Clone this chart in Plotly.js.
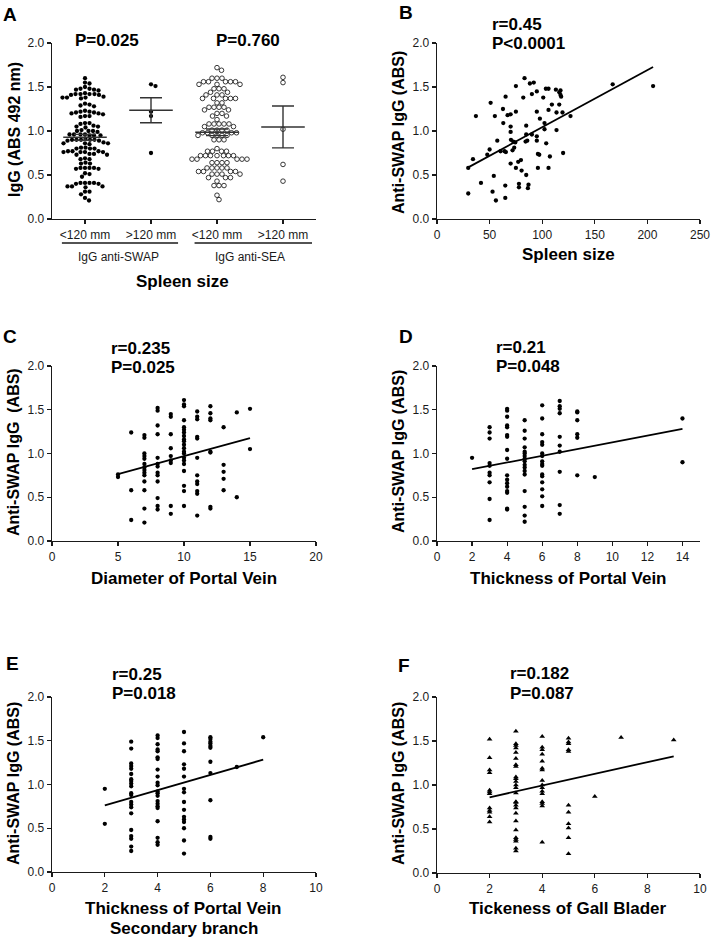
<!DOCTYPE html>
<html>
<head>
<meta charset="utf-8">
<script src="https://cdn.plot.ly/plotly-3.0.1.min.js"></script>
<style>
  html, body { margin: 0; padding: 0; background: #fff; }
</style>
</head>
<body>
<div id="myPlot" style="width:714px;height:941px;"></div>
<script>
// ---- Panel A: IgG by spleen size (scatter dot plot) ----
const aCats = ["&lt;120 mm", "&gt;120 mm", "&lt;120 mm", "&gt;120 mm"];
const aGroups = ["IgG anti-SWAP", "IgG anti-SEA"];
const aPvals = ["P=0.025", "P=0.760"];
const aSwapLow = [1.60, 1.54, 1.55, 1.50, 1.47, 1.48, 1.47, 1.48, 1.46,
  1.42, 1.42, 1.41, 1.42, 1.43, 1.42, 1.41, 1.38, 1.37, 1.38, 1.39, 1.38,
  1.31, 1.30, 1.29, 1.28, 1.22, 1.23, 1.22, 1.21, 1.20, 1.21, 1.19, 1.20,
  1.17, 1.16, 1.17, 1.09, 1.08, 1.09, 1.05, 1.06, 1.05, 1.04,
  1.00, 1.01, 1.00, 0.99, 1.00, 0.96, 0.95, 0.96, 0.95, 0.96, 0.95, 0.96,
  0.90, 0.90, 0.89, 0.90, 0.91, 0.90, 0.89, 0.90, 0.86, 0.87, 0.86, 0.85, 0.86,
  0.80, 0.81, 0.80, 0.80, 0.81, 0.77, 0.76, 0.77, 0.76, 0.77, 0.76, 0.76,
  0.74, 0.73, 0.74, 0.73, 0.68, 0.69, 0.68, 0.63, 0.64, 0.63,
  0.58, 0.57, 0.58, 0.58, 0.57, 0.58, 0.52, 0.51, 0.48,
  0.41, 0.40, 0.41, 0.40, 0.41, 0.41, 0.37, 0.37, 0.36, 0.37,
  0.31, 0.31, 0.28, 0.24, 0.21];
const aSwapHigh = [1.53, 1.51, 1.22, 1.17, 0.75];
const aSeaLow = [1.72, 1.69, 1.60, 1.60, 1.60, 1.56, 1.56, 1.56, 1.56, 1.56,
  1.53, 1.53, 1.53, 1.48, 1.48, 1.48, 1.44, 1.44, 1.41, 1.41, 1.41,
  1.37, 1.37, 1.37, 1.37, 1.37, 1.32, 1.32, 1.27, 1.27, 1.27, 1.27,
  1.24, 1.24, 1.20, 1.20, 1.17, 1.17, 1.13, 1.08, 1.08, 1.08, 1.08, 1.08,
  1.05, 1.05, 1.01, 1.01, 1.01, 1.01, 0.98, 0.98, 0.98, 0.98,
  0.95, 0.95, 0.95, 0.95, 0.95, 0.90, 0.90, 0.90, 0.80, 0.77, 0.77, 0.77, 0.77,
  0.72, 0.72, 0.72, 0.72, 0.72, 0.72, 0.72, 0.68, 0.68, 0.68, 0.68, 0.68,
  0.64, 0.64, 0.64, 0.64, 0.58, 0.58, 0.58, 0.58, 0.58,
  0.54, 0.54, 0.54, 0.54, 0.51, 0.51, 0.51, 0.51, 0.47, 0.47, 0.47, 0.43,
  0.38, 0.38, 0.38, 0.27, 0.22];
const aSeaHigh = [1.61, 1.55, 1.02, 0.62, 0.43];

// ---- Panel B: spleen size ----
const bX = [29.7, 29.7, 34.2, 37, 41.8, 47.8, 50, 51, 54, 52.8, 56, 55, 57.3, 60.4, 63,
  65.2, 62.7, 64.2, 65.5, 64.9, 64.9, 67.1, 70, 70, 70, 70.3, 70, 71.8, 72.5, 73.4,
  74.4, 75, 75, 75, 77.2, 77.9, 77.9, 80.4, 79.8, 82, 83.2, 84.8, 84.8, 84.2, 84.8,
  85.8, 87, 86.4, 88.3, 92, 90.2, 90.2, 94.9, 94.9, 94.9, 94.9, 95.9, 95.9, 97.2,
  97.8, 101, 102.2, 102.2, 103.8, 103.5, 106, 106, 107.3, 106, 109.2, 113, 113.6,
  113.6, 116.2, 117.4, 117.4, 118, 116.2, 119.3, 119.9, 126.9, 167, 205.4];
const bY = [0.29, 0.58, 0.68, 1.17, 0.41, 0.73, 0.79, 1.32, 0.49, 0.31, 0.21, 1.17, 0.89, 0.77, 1.09,
  1.39, 1.25, 0.77, 0.76, 0.38, 0.24, 1.18, 1.19, 1.05, 0.99, 0.90, 0.63, 0.78, 0.88, 0.81,
  0.87, 1.22, 1.51, 0.58, 0.65, 0.40, 0.36, 0.55, 0.67, 1.38, 1.60, 0.96, 1.06, 0.88, 0.50,
  0.89, 0.39, 0.35, 1.54, 1.55, 1.42, 0.96, 1.45, 1.22, 0.94, 0.89, 0.74, 0.58, 0.73,
  1.14, 1.38, 1.09, 1.02, 0.86, 1.48, 1.48, 1.24, 0.71, 0.58, 1.30, 1.47, 1.21,
  1.01, 1.44, 1.41, 1.46, 1.39, 1.30, 1.21, 0.75, 1.17, 1.53, 1.51];
const bFit = [0.394, 0.00649];

// ---- Panel C: diameter of portal vein ----
const cCols = [5, 6, 7, 8, 9, 10, 11, 12, 13, 14, 15];
const cVals = [
  [0.76, 0.73],
  [1.24, 0.58, 0.24],
  [1.21, 1.18, 1.00, 0.97, 0.94, 0.88, 0.84, 0.81, 0.78, 0.75, 0.68, 0.58, 0.37, 0.21],
  [1.52, 1.49, 1.32, 1.22, 0.95, 0.88, 0.85, 0.78, 0.75, 0.68, 0.49, 0.40, 0.36],
  [1.45, 1.42, 1.22, 1.06, 0.97, 0.92, 0.89, 0.40, 0.31],
  [1.61, 1.56, 1.54, 1.38, 1.30, 1.27, 1.24, 1.20, 1.16, 1.14, 1.10, 1.06, 1.02, 1.00, 0.95, 0.92, 0.88, 0.80, 0.63, 0.57, 0.40],
  [1.48, 1.42, 1.39, 1.19, 1.17, 0.95, 0.75, 0.68, 0.65, 0.57, 0.54, 0.29],
  [1.54, 1.46, 1.40, 1.38, 1.02, 1.01, 0.39, 0.37],
  [1.30, 0.87, 0.79, 0.71, 0.58],
  [1.47, 0.50],
  [1.51, 1.05]
];
const cFit = [0.559, 0.0411];

// ---- Panel D: thickness of portal vein ----
const dCols = [2, 3, 4, 5, 6, 7, 8, 9, 14];
const dVals = [
  [0.95],
  [1.30, 1.24, 1.17, 0.89, 0.86, 0.78, 0.75, 0.67, 0.48, 0.24],
  [1.51, 1.49, 1.42, 1.32, 1.30, 1.21, 1.19, 1.04, 0.94, 0.75, 0.70, 0.66, 0.62, 0.57, 0.55, 0.37, 0.36],
  [1.38, 1.26, 1.17, 1.07, 1.02, 1.00, 0.97, 0.94, 0.91, 0.87, 0.84, 0.80, 0.76, 0.57, 0.39, 0.29, 0.22],
  [1.55, 1.40, 1.22, 1.13, 1.10, 1.00, 0.97, 0.91, 0.88, 0.86, 0.76, 0.74, 0.67, 0.59, 0.51, 0.40],
  [1.60, 1.54, 1.51, 1.46, 1.19, 1.09, 1.02, 0.79, 0.41, 0.31],
  [1.48, 1.47, 1.38, 1.22, 1.18, 0.75],
  [0.73],
  [1.40, 0.90]
];
const dFit = [0.744, 0.0383];

// ---- Panel E: portal vein secondary branch ----
const eCols = [2, 3, 4, 5, 6, 7, 8];
const eVals = [
  [0.95, 0.55],
  [1.49, 1.41, 1.24, 1.21, 1.18, 1.12, 1.06, 1.04, 1.01, 0.98, 0.90, 0.88, 0.80, 0.77, 0.74, 0.67, 0.48, 0.41, 0.38, 0.29, 0.24],
  [1.56, 1.53, 1.46, 1.40, 1.38, 1.31, 1.29, 1.17, 1.09, 1.02, 0.99, 0.92, 0.90, 0.87, 0.81, 0.78, 0.75, 0.73, 0.58, 0.39, 0.34, 0.31],
  [1.60, 1.47, 1.38, 1.23, 1.18, 1.09, 0.95, 0.91, 0.80, 0.71, 0.63, 0.60, 0.57, 0.50, 0.36, 0.21],
  [1.54, 1.52, 1.49, 1.47, 1.44, 1.42, 1.26, 1.13, 0.82, 0.40, 0.38],
  [1.20],
  [1.54]
];
const eFit = [0.588, 0.087];

// ---- Panel F: gall bladder ----
const fCols = [2, 3, 4, 5, 6, 7, 9];
const fVals = [
  [1.52, 1.31, 1.17, 1.14, 0.94, 0.92, 0.90, 0.74, 0.71, 0.69, 0.64, 0.58],
  [1.61, 1.47, 1.45, 1.42, 1.37, 1.30, 1.23, 1.21, 1.09, 1.07, 1.04, 1.00, 0.97, 0.91, 0.81, 0.80, 0.77, 0.74, 0.68, 0.59, 0.49, 0.40, 0.38, 0.36, 0.28, 0.25],
  [1.55, 1.43, 1.40, 1.35, 1.27, 1.19, 1.17, 1.05, 1.00, 0.97, 0.93, 0.90, 0.81, 0.79, 0.76, 0.35],
  [1.53, 1.49, 1.47, 1.40, 1.38, 0.77, 0.69, 0.56, 0.51, 0.40, 0.22],
  [0.87],
  [1.54],
  [1.51]
];
const fFit = [0.727, 0.0666];

// ---- layout helpers ----
const W = 714, H = 941;
const FONT = "Liberation Sans, Arial, sans-serif";
const INK = "#1a1a1a";
const px = (v) => v / W;
const py = (v) => 1 - v / H;

// panel boxes in pixels: [left, right, top, bottom]
const boxA = [52, 316, 43, 219];
const boxB = [437, 700, 43, 219];
const boxC = [52, 316, 366, 541];
const boxD = [437, 700, 366, 541];
const boxE = [52, 316, 697, 872];
const boxF = [437, 700, 697, 873];

function xAxis(box, range, extra) {
  return Object.assign({
    domain: [px(box[0]), px(box[1])], range: range,
    showline: true, linecolor: INK, linewidth: 1.3,
    ticks: "outside", ticklen: 4, tickwidth: 1.2, tickcolor: INK,
    showgrid: false, zeroline: false,
    tickfont: {family: FONT, size: 12, color: INK}
  }, extra);
}
function yAxis(box, extra) {
  return Object.assign({
    domain: [py(box[3]), py(box[2])], range: [0, 2], dtick: 0.5, tickformat: ".1f",
    showline: true, linecolor: INK, linewidth: 1.3,
    ticks: "outside", ticklen: 4, tickwidth: 1.2, tickcolor: INK,
    showgrid: false, zeroline: false,
    tickfont: {family: FONT, size: 12, color: INK}
  }, extra);
}

function flatten(cols, vals) {
  const x = [], y = [];
  cols.forEach((c, i) => vals[i].forEach(v => { x.push(c); y.push(v); }));
  return {x, y};
}

// beeswarm offsets (in category units) so the dots do not overlap
function swarm(vals, center, dotPx, xPerUnit, yPerUnit) {
  const placed = [];
  const out = new Array(vals.length);
  const order = vals.map((v, i) => i).sort((a, b) => vals[b] - vals[a]);
  order.forEach(i => {
    const yy = vals[i] * yPerUnit;
    let off = 0;
    for (let k = 0; k < 400; k++) {
      const cand = (k % 2 ? 1 : -1) * Math.ceil(k / 2) * 0.5;
      if (placed.every(p => (p.x - cand) ** 2 + (p.y - yy) ** 2 >= dotPx * dotPx)) { off = cand; break; }
    }
    placed.push({x: off, y: yy});
    out[i] = center + off / xPerUnit;
  });
  return out;
}

const mean = a => a.reduce((s, v) => s + v, 0) / a.length;
const sem = a => {
  const m = mean(a);
  return Math.sqrt(a.reduce((s, v) => s + (v - m) ** 2, 0) / (a.length - 1)) / Math.sqrt(a.length);
};

const data = [];

// Panel A traces
const aXper = (boxA[1] - boxA[0]) / 4;
const aYper = (boxA[3] - boxA[2]) / 2;
const aSets = [aSwapLow, aSwapHigh, aSeaLow, aSeaHigh];
aSets.forEach((vals, i) => {
  const open = i >= 2;
  data.push({
    type: "scatter", mode: "markers", xaxis: "x", yaxis: "y",
    x: swarm(vals, i, open ? 4.8 : 4.4, aXper, aYper), y: vals,
    marker: open
      ? {symbol: "circle-open", size: 4.6, color: "#222", line: {width: 0.9}}
      : {symbol: "circle", size: 4.3, color: "#000"},
    hoverinfo: "skip", cliponaxis: false
  });
  const m = mean(vals);
  data.push({
    type: "scatter", mode: "lines", xaxis: "x", yaxis: "y",
    x: [i - 0.33, i + 0.33], y: [m, m],
    line: {color: "#333", width: 1.4}, hoverinfo: "skip"
  });
  data.push({
    type: "scatter", mode: "markers", xaxis: "x", yaxis: "y",
    x: [i], y: [m], marker: {size: 1, color: "rgba(0,0,0,0)"},
    error_y: {type: "data", array: [sem(vals)], color: "#333", thickness: 1.4, width: 11},
    hoverinfo: "skip"
  });
});

// correlation panels
function corrPanel(n, x, y, fit, symbol) {
  const ax = "x" + n, ay = "y" + n;
  data.push({
    type: "scatter", mode: "markers", xaxis: ax, yaxis: ay, x: x, y: y,
    marker: {symbol: symbol, size: symbol === "circle" ? 4.3 : 5, color: "#000"},
    hoverinfo: "skip", cliponaxis: false
  });
  const x0 = Math.min(...x), x1 = Math.max(...x);
  data.push({
    type: "scatter", mode: "lines", xaxis: ax, yaxis: ay,
    x: [x0, x1], y: [fit[0] + fit[1] * x0, fit[0] + fit[1] * x1],
    line: {color: "#000", width: 1.8}, hoverinfo: "skip"
  });
}
corrPanel(2, bX, bY, bFit, "circle");
const cD = flatten(cCols, cVals); corrPanel(3, cD.x, cD.y, cFit, "circle");
const dD = flatten(dCols, dVals); corrPanel(4, dD.x, dD.y, dFit, "circle");
const eD = flatten(eCols, eVals); corrPanel(5, eD.x, eD.y, eFit, "circle");
const fD = flatten(fCols, fVals); corrPanel(6, fD.x, fD.y, fFit, "triangle-up");

// text annotations
const ann = [];
function txt(text, x, y, size, opts) {
  ann.push(Object.assign({
    text: text, xref: "paper", yref: "paper", x: px(x), y: py(y),
    xanchor: "center", yanchor: "middle", showarrow: false,
    font: {family: FONT, size: size, color: "#000"}
  }, opts));
}
const b = s => "<b>" + s + "</b>";

// panel letters
txt(b("A"), 10, 15, 19); txt(b("B"), 406, 12, 19);
txt(b("C"), 10, 337, 19); txt(b("D"), 406, 337, 19);
txt(b("E"), 12, 663, 19); txt(b("F"), 404, 665, 19);

// stats
txt(b(aPvals[0]), 107, 40, 17); txt(b(aPvals[1]), 248, 40, 17);
txt(b("r=0.45"), 490, 25, 17, {xanchor: "left"});
txt(b("P&lt;0.0001"), 490, 43, 17, {xanchor: "left"});
txt(b("r=0.235"), 109, 349, 17, {xanchor: "left"});
txt(b("P=0.025"), 109, 367, 17, {xanchor: "left"});
txt(b("r=0.21"), 494, 347, 17, {xanchor: "left"});
txt(b("P=0.048"), 494, 366, 17, {xanchor: "left"});
txt(b("r=0.25"), 110, 674, 17, {xanchor: "left"});
txt(b("P=0.018"), 110, 693, 17, {xanchor: "left"});
txt(b("r=0.182"), 508, 673, 17, {xanchor: "left"});
txt(b("P=0.087"), 508, 693, 17, {xanchor: "left"});

// y titles
const yT = (s, x, y) => txt(b(s), x, y, 16, {textangle: -90});
yT("IgG (ABS 492 nm)", 14, 130);
yT("Anti-SWAP IgG (ABS)", 398, 133);
yT("Anti-SWAP IgG&nbsp; (ABS)", 13, 452);
yT("Anti-SWAP IgG (ABS)", 398, 452);
yT("Anti-SWAP IgG (ABS)", 13, 784);
yT("Anti-SWAP IgG (ABS)", 398, 784);

// x titles
txt(b("Spleen size"), 183, 281, 17);
txt(b("Spleen size"), 568, 255, 17);
txt(b("Diameter of Portal Vein"), 184, 578, 17);
txt(b("Thickness of Portal Vein"), 568, 578, 17);
txt(b("Thickness of Portal Vein"), 184, 908, 17);
txt(b("Secondary branch"), 184, 928, 17);
txt(b("Tickeness of Gall Blader"), 568, 908, 17);

// panel A group labels and bars
ann.push({text: aGroups[0], xref: "x", yref: "paper", x: 0.5, y: py(257), showarrow: false,
  xanchor: "center", yanchor: "middle", font: {family: FONT, size: 12, color: INK}});
ann.push({text: aGroups[1], xref: "x", yref: "paper", x: 2.5, y: py(257), showarrow: false,
  xanchor: "center", yanchor: "middle", font: {family: FONT, size: 12, color: INK}});
const shapes = [
  {type: "line", xref: "x", yref: "paper", x0: -0.35, x1: 1.41, y0: py(243), y1: py(243), line: {color: INK, width: 1.3}},
  {type: "line", xref: "x", yref: "paper", x0: 1.66, x1: 3.44, y0: py(243), y1: py(243), line: {color: INK, width: 1.3}}
];

const layout = {
  width: W, height: H, margin: {l: 0, r: 0, t: 0, b: 0},
  showlegend: false, paper_bgcolor: "#fff", plot_bgcolor: "#fff",
  font: {family: FONT, color: INK},
  xaxis: xAxis(boxA, [-0.5, 3.5], {anchor: "y", tickmode: "array", tickvals: [0, 1, 2, 3], ticktext: aCats}),
  yaxis: yAxis(boxA, {anchor: "x"}),
  xaxis2: xAxis(boxB, [0, 250], {anchor: "y2", dtick: 50}),
  yaxis2: yAxis(boxB, {anchor: "x2"}),
  xaxis3: xAxis(boxC, [0, 20], {anchor: "y3", dtick: 5}),
  yaxis3: yAxis(boxC, {anchor: "x3"}),
  xaxis4: xAxis(boxD, [0, 15], {anchor: "y4", dtick: 2}),
  yaxis4: yAxis(boxD, {anchor: "x4"}),
  xaxis5: xAxis(boxE, [0, 10], {anchor: "y5", dtick: 2}),
  yaxis5: yAxis(boxE, {anchor: "x5"}),
  xaxis6: xAxis(boxF, [0, 10], {anchor: "y6", dtick: 2}),
  yaxis6: yAxis(boxF, {anchor: "x6"}),
  annotations: ann,
  shapes: shapes
};

Plotly.newPlot("myPlot", data, layout, {staticPlot: true});
</script>
</body>
</html>
